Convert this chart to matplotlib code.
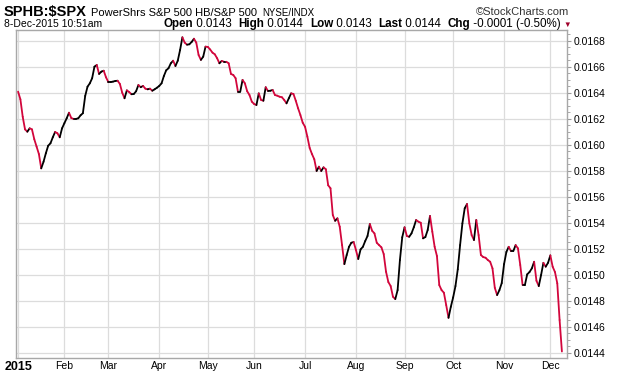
import numpy as np
import pandas as pd
import matplotlib
matplotlib.use("Agg")
import matplotlib.pyplot as plt
from matplotlib.collections import LineCollection
from matplotlib.ticker import MultipleLocator, FuncFormatter

# ---------------- data ----------------
holidays = ["2015-01-01", "2015-01-19", "2015-02-16", "2015-04-03", "2015-05-25",
            "2015-07-03", "2015-09-07", "2015-11-26"]
start_date = "2015-01-02"
end_date = "2015-12-08"

# SPHB:$SPX ratio, one value per trading day
ratio = [
    0.016408, 0.016349, 0.016215, 0.016118, 0.016100, 0.016126, 0.016118, 0.016042, 0.015985, 0.015928,
    0.015818, 0.015869, 0.015934, 0.015992, 0.016011, 0.016057, 0.016098, 0.016088, 0.016057, 0.016126,
    0.016165, 0.016203, 0.016246, 0.016205, 0.016198, 0.016198, 0.016203, 0.016226, 0.016242, 0.016375,
    0.016446, 0.016472, 0.016511, 0.016600, 0.016613, 0.016544, 0.016562, 0.016569, 0.016518, 0.016482,
    0.016482, 0.016485, 0.016490, 0.016492, 0.016467, 0.016400, 0.016357, 0.016418, 0.016405, 0.016388,
    0.016390, 0.016411, 0.016459, 0.016442, 0.016452, 0.016431, 0.016426, 0.016431, 0.016415, 0.016426,
    0.016438, 0.016452, 0.016472, 0.016528, 0.016572, 0.016588, 0.016626, 0.016646, 0.016605, 0.016646,
    0.016728, 0.016826, 0.016785, 0.016769, 0.016772, 0.016790, 0.016815, 0.016785, 0.016690, 0.016652,
    0.016677, 0.016754, 0.016752, 0.016732, 0.016708, 0.016695, 0.016665, 0.016626, 0.016644, 0.016638,
    0.016638, 0.016626, 0.016544, 0.016536, 0.016511, 0.016408, 0.016408, 0.016498, 0.016472, 0.016411,
    0.016382, 0.016331, 0.016313, 0.016305, 0.016395, 0.016344, 0.016338, 0.016442, 0.016413, 0.016415,
    0.016421, 0.016382, 0.016377, 0.016369, 0.016365, 0.016344, 0.016318, 0.016357, 0.016395, 0.016390,
    0.016338, 0.016280, 0.016228, 0.016169, 0.016138, 0.016062, 0.015975, 0.015928, 0.015888, 0.015798,
    0.015831, 0.015798, 0.015826, 0.015811, 0.015688, 0.015665, 0.015459, 0.015415, 0.015434, 0.015369,
    0.015228, 0.015082, 0.015152, 0.015215, 0.015246, 0.015252, 0.015190, 0.015121, 0.015195, 0.015215,
    0.015259, 0.015298, 0.015390, 0.015338, 0.015318, 0.015246, 0.015228, 0.015211, 0.015159, 0.015023,
    0.014944, 0.014913, 0.014831, 0.014813, 0.014882, 0.015113, 0.015288, 0.015365, 0.015298, 0.015292,
    0.015318, 0.015365, 0.015421, 0.015408, 0.015400, 0.015280, 0.015290, 0.015344, 0.015452, 0.015331,
    0.015215, 0.015144, 0.014921, 0.014882, 0.014862, 0.014767, 0.014669, 0.014754, 0.014826, 0.014913,
    0.015042, 0.015228, 0.015395, 0.015511, 0.015544, 0.015395, 0.015305, 0.015267, 0.015421, 0.015305,
    0.015152, 0.015136, 0.015131, 0.015113, 0.015100, 0.015049, 0.014900, 0.014844, 0.014882, 0.014936,
    0.015082, 0.015175, 0.015215, 0.015182, 0.015182, 0.015228, 0.015203, 0.015075, 0.014921, 0.014921,
    0.015003, 0.015021, 0.015049, 0.015100, 0.014954, 0.014913, 0.014998, 0.015092, 0.015062, 0.015092,
    0.015149, 0.015062, 0.015021, 0.014934, 0.014652, 0.014410,
]

month_labels = ["2015", "Feb", "Mar", "Apr", "May", "Jun", "Jul", "Aug", "Sep", "Oct", "Nov", "Dec"]

title_symbol = "SPHB:$SPX"
title_name = "PowerShrs S&P 500 HB/S&P 500"
title_exch = "NYSE/INDX"
stamp = "8-Dec-2015 10:51am"
quote_runs = [("Open", "bold"), (" 0.0143  ", "normal"), ("High", "bold"), (" 0.0144  ", "normal"),
              ("Low", "bold"), (" 0.0143  ", "normal"), ("Last", "bold"), (" 0.0144  ", "normal"),
              ("Chg", "bold"), (" -0.0001 (-0.50%)", "normal")]

# ---------------- figure ----------------
W, H = 620, 376
fig = plt.figure(figsize=(W / 100, H / 100), dpi=100)
fig.patch.set_facecolor("white")
FONT = "Liberation Sans"
plt.rcParams["font.family"] = [FONT, "DejaVu Sans"]

ax_l, ax_r, ax_t, ax_b = 16, 567, 30, 358
ax = fig.add_axes([ax_l / W, (H - ax_b) / H, (ax_r - ax_l) / W, (ax_b - ax_t) / H])

dates = pd.bdate_range(start_date, end_date)
dates = dates[~dates.isin(pd.to_datetime(holidays))]
n = min(len(dates), len(ratio))
x = np.arange(n)
y = np.array(ratio[:n])

pts = np.column_stack([x, y])
segs = np.stack([pts[:-1], pts[1:]], axis=1)
up = np.diff(y) >= 0
colors = np.where(up, "#000000", "#d2063c")
lc = LineCollection(segs, colors=colors, linewidths=1.3, capstyle="round", joinstyle="round", zorder=3)
ax.add_collection(lc)

ax.set_xlim(-0.9, n - 1 + 2.2)
ax.set_ylim(0.014360, 0.016882)

# month gridlines at first trading day of each month
months = pd.Series(dates[:n].month)
first_idx = [int(months[months == m].index[0]) for m in sorted(months.unique())]
ax.set_xticks(first_idx)
ax.set_xticklabels(month_labels[:len(first_idx)], fontsize=7.5, family=FONT)
ax.get_xticklabels()[0].set_fontweight("bold")
ax.get_xticklabels()[0].set_fontsize(9)
ax.tick_params(axis="x", length=0, pad=2.5, colors="#000000")

ax.yaxis.tick_right()
ax.yaxis.set_major_locator(MultipleLocator(0.0002))
ax.yaxis.set_minor_locator(MultipleLocator(0.00005))
ax.yaxis.set_major_formatter(FuncFormatter(lambda v, p: f"{v:.4f}"))
ax.tick_params(axis="y", which="major", length=3, width=0.8, color="#9a9a9a", pad=2, labelsize=7.5)
ax.tick_params(axis="y", which="minor", length=2, width=0.6, color="#9a9a9a")
for lab in ax.get_yticklabels():
    lab.set_family(FONT)

ax.grid(True, which="major", color="#dcdcdc", linewidth=0.9, zorder=0)
for sp in ax.spines.values():
    sp.set_color("#a8a8a8")
    sp.set_linewidth(1.0)

# ---------------- header text ----------------
fig.canvas.draw()
renderer = fig.canvas.get_renderer()


def put(xpx, ypx, s, size, weight="normal", color="#000000", ha="left"):
    t = fig.text(xpx / W, 1 - ypx / H, s, fontsize=size, fontweight=weight, color=color,
                 ha=ha, va="baseline", family=[FONT, "DejaVu Sans"])
    bb = t.get_window_extent(renderer)
    return bb.width


xp = 4
xp += put(xp, 16, title_symbol, 10.5, "bold") + 4
xp += put(xp, 16, title_name, 8) + 5
put(xp, 16, title_exch, 7)
put(569, 15, "\u00a9StockCharts.com", 8, color="#333333", ha="right")
put(4, 27, stamp, 7.5)

# quote line: measure then right-align ending before triangle
QS = 8.4
widths = []
for s, w in quote_runs:
    t = fig.text(0, 0, s, fontsize=QS, fontweight=w, family=[FONT, "DejaVu Sans"])
    widths.append(t.get_window_extent(renderer).width)
    t.remove()
xq = 561 - sum(widths)
for (s, w), wd in zip(quote_runs, widths):
    put(xq, 27, s, QS, w)
    xq += wd
put(563, 27, "\u25bc", 5.5, color="#a0002a")

fig.savefig("out.png", dpi=100, facecolor="white")
